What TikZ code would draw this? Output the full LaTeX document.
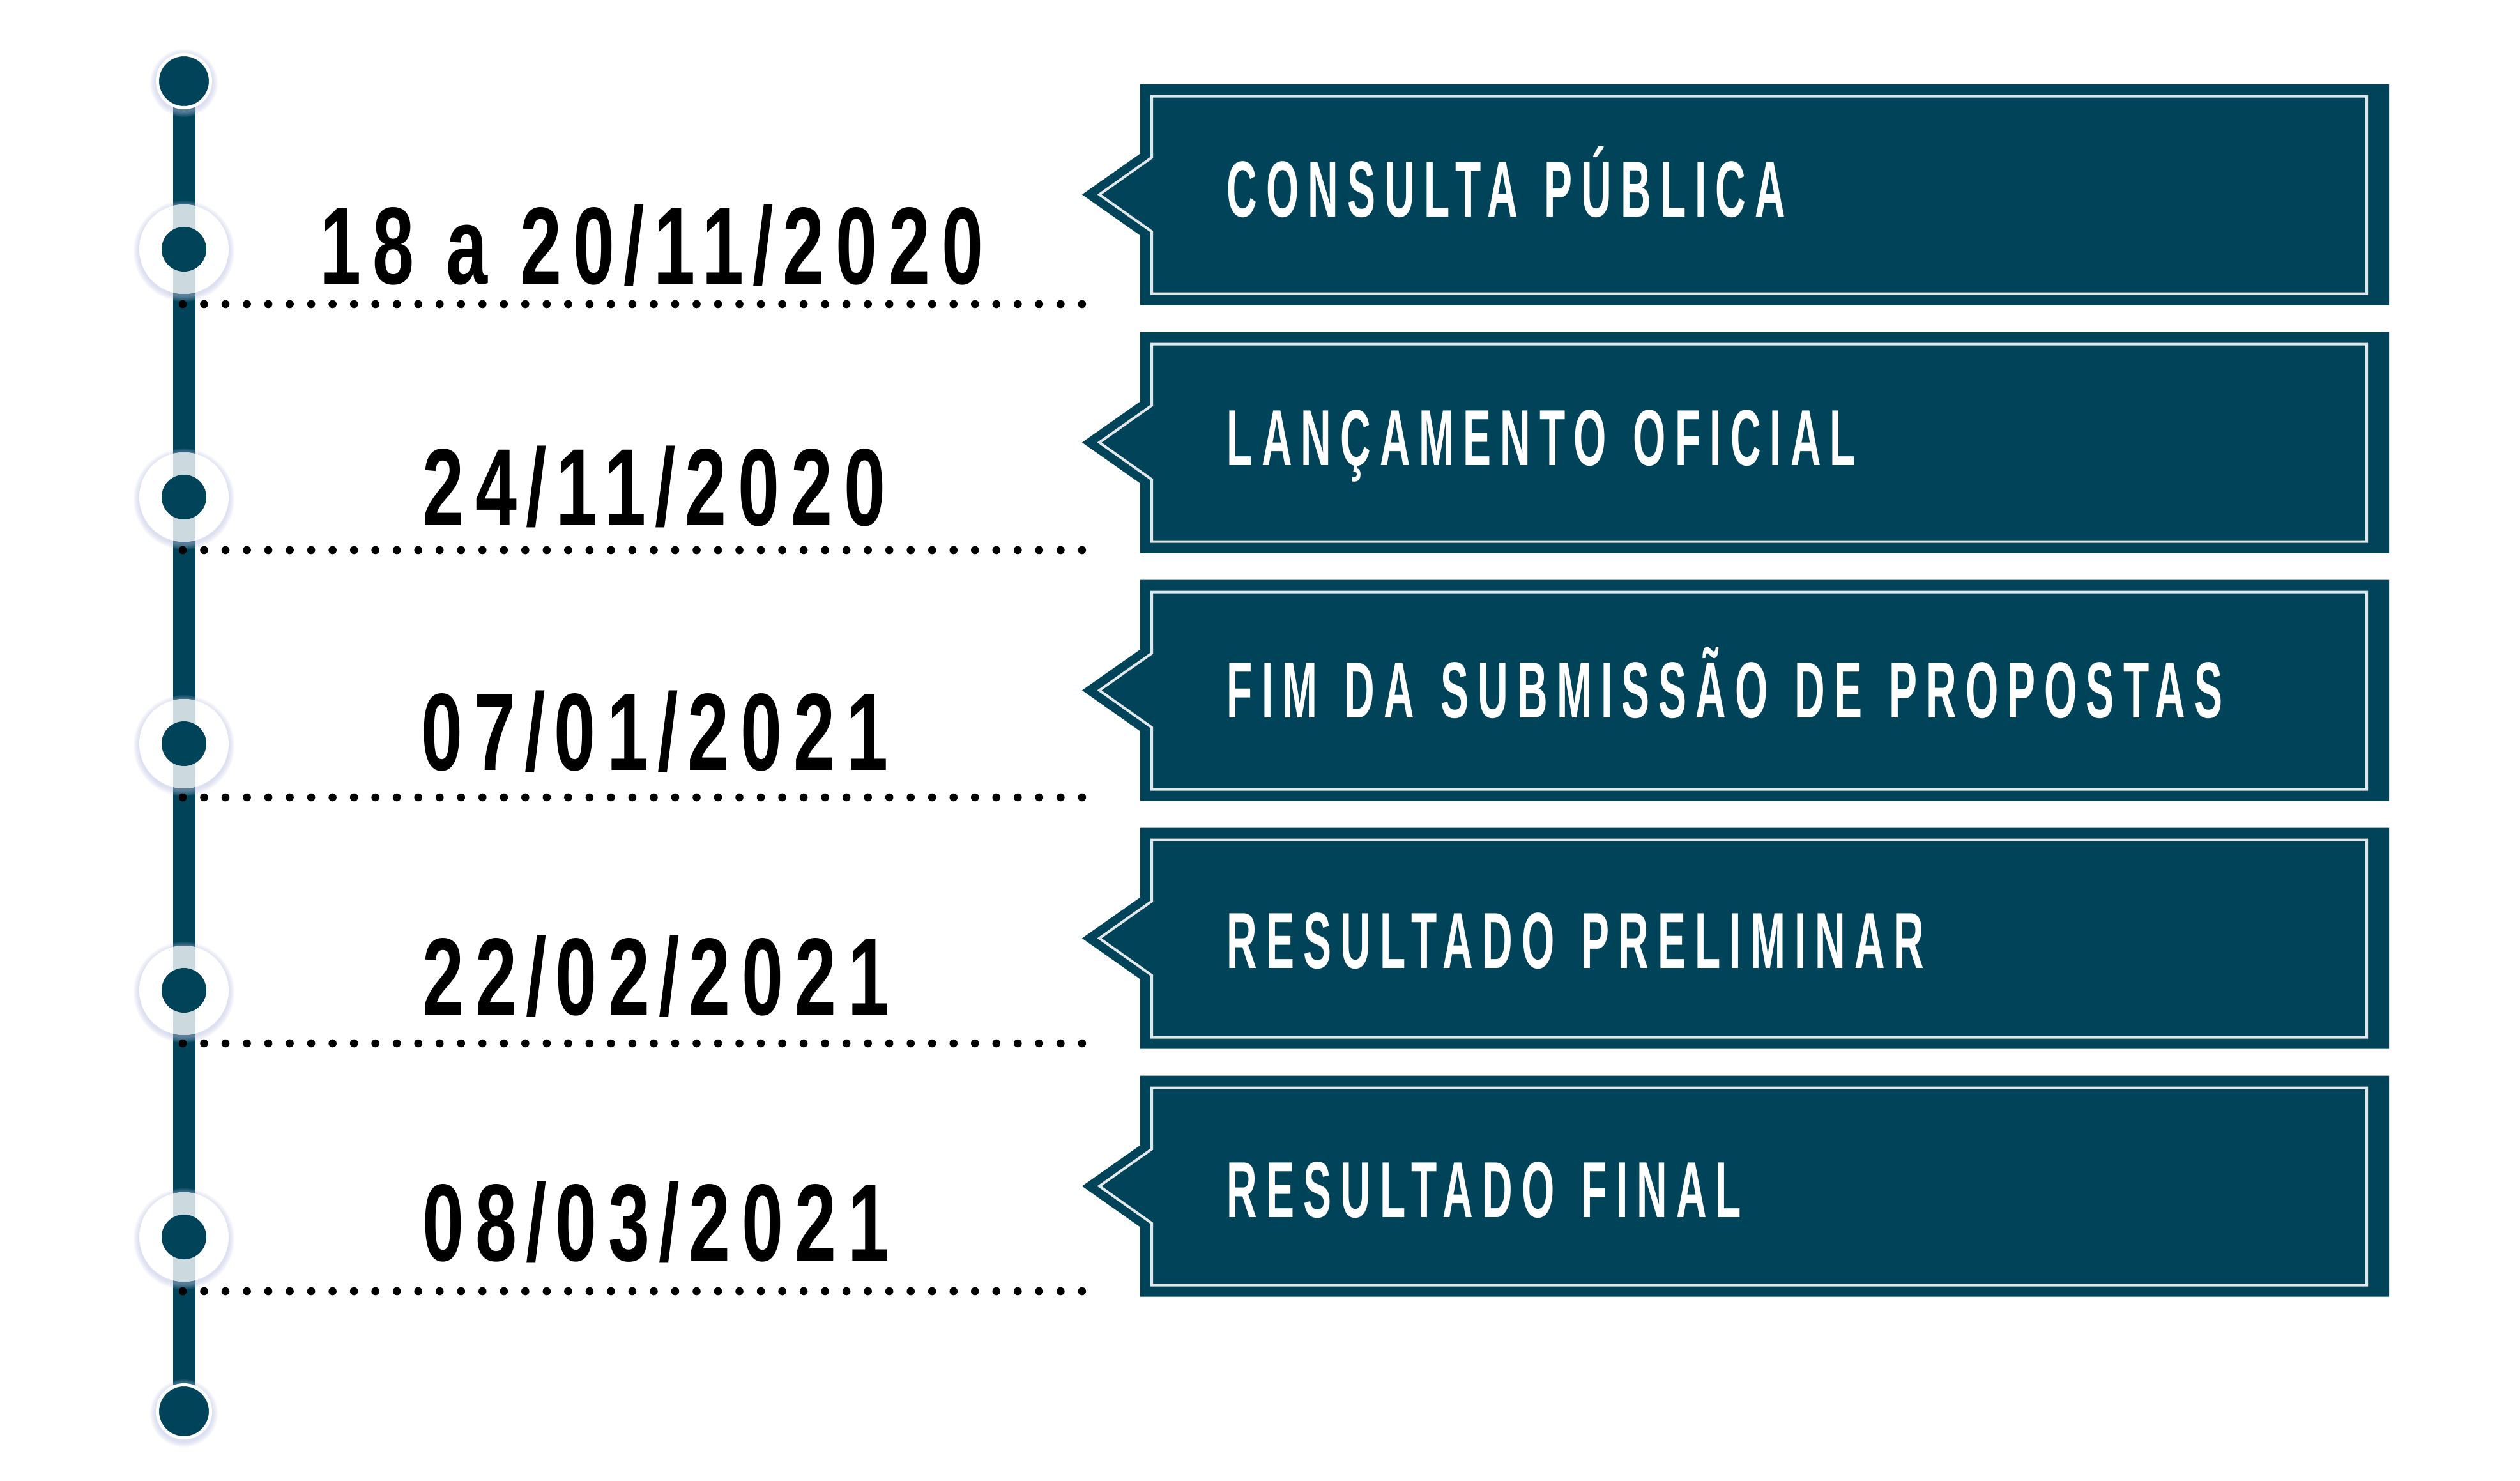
\documentclass[tikz,border=0pt]{standalone}
\usepackage{fontspec}
\usepackage{tikz}
\definecolor{petrol}{RGB}{1,67,89}
\definecolor{petrol light}{RGB}{204,217,222}
\definecolor{frame}{RGB}{226,231,234}
\definecolor{halo shadow}{RGB}{188,196,228}
\newfontfamily\datefont{Liberation Sans}[FakeStretch=0.68,LetterSpace=10.5]
\newfontfamily\boxfont{Liberation Sans}[FakeStretch=0.53,LetterSpace=11.3,WordSpace=1.3]
\newcommand{\dsl}{\kern4pt/\kern4pt}

\begin{document}
\begin{tikzpicture}[y=-1cm,
	end point/.style={circle, fill=petrol, draw=white, line width=0.05cm, minimum size=0.83cm, inner sep=0pt},
	mid point/.style={circle, fill=petrol, minimum size=0.70cm, inner sep=0pt},
	date/.style={font=\datefont\bfseries\fontsize{48.9}{50}\selectfont, anchor=base, inner sep=0pt},
	stage/.style={font=\boxfont\bfseries\fontsize{35.4}{36}\selectfont, text=white, anchor=base west, inner sep=0pt},
	leader/.style={line width=0.126cm, line cap=round, dash pattern=on 0pt off 0.3352cm}]
		\fill[white] (0,0) rectangle (39.45,23.18);
		\useasboundingbox (0,0) rectangle (39.45,23.18);
		% timeline
		\coordinate (top) at (2.88,1.27);
		\coordinate (bot) at (2.88,22.09);
		\draw[petrol, line width=0.35cm] (top) -- (bot);
		\foreach \p in {top,bot}{
		  \foreach \r in {1,...,6}{
		      \fill[halo shadow, opacity=0.1] ([yshift=-0.03cm]\p) circle ({0.44+\r*0.015});
		  }}
		\node[end point] (first) at (top) {};
		\node[end point] (last) at (bot) {};
		\foreach \y [count=\i] in {3.90,7.78,11.64,15.50,19.36}{
		  \foreach \r in {1,...,6}{
		      \fill[halo shadow, opacity=0.1] (2.88,\y+0.03) circle ({0.70+\r*0.015});
		  }
		  \fill[white] (2.88,\y) circle (0.70);
		  \begin{scope}
		    \clip (2.88,\y) circle (0.70);
		    \fill[petrol light] (2.705,\y-0.7) rectangle (3.055,\y+0.7);
		  \end{scope}
		  \node[mid point] (m\i) at (2.88,\y) {};
		}
		% dotted leaders
		\foreach \y [count=\i] in {4.76,8.61,12.48,16.33,20.21}{
		  \coordinate (l\i) at (2.86,\y);
		  \coordinate (r\i) at (16.94,\y);
		  \draw[leader] (l\i) -- (r\i);
		}
		% boxes
		\foreach \c in {3.045,6.925,10.805,14.685,18.565}{
		  \fill[petrol] (17.85,\c-1.73) -- (37.40,\c-1.73) -- (37.40,\c+1.73) -- (17.85,\c+1.73) -- (17.85,\c+0.64) -- (16.94,\c) -- (17.85,\c-0.64) -- cycle;
		  \draw[frame, line width=0.04cm] (18.03,\c-1.54) -- (37.05,\c-1.54) -- (37.05,\c+1.55) -- (18.03,\c+1.55) -- (18.03,\c+0.58) -- (17.21,\c) -- (18.03,\c-0.58) -- cycle;
		}
		\node[date] (d1) at (10.20,4.44) {18 a 20\dsl 11\dsl 2020};
		\node[date] (d2) at (10.24,8.22) {24\dsl 11\dsl 2020};
		\node[date] (d3) at (10.25,12.05) {07\dsl 01\dsl 2021};
		\node[date] (d4) at (10.27,15.88) {22\dsl 02\dsl 2021};
		\node[date] (d5) at (10.27,19.73) {08\dsl 03\dsl 2021};
		\node[stage] (s1) at (19.20,3.39) {CONSULTA PÚBLICA};
		\node[stage] (s2) at (19.20,7.28) {LANÇAMENTO OFICIAL};
		\node[stage] (s3) at (19.20,11.23) {FIM DA SUBMISSÃO DE PROPOSTAS};
		\node[stage] (s4) at (19.20,15.15) {RESULTADO PRELIMINAR};
		\node[stage] (s5) at (19.20,19.05) {RESULTADO FINAL};
	\end{tikzpicture}
\end{document}
